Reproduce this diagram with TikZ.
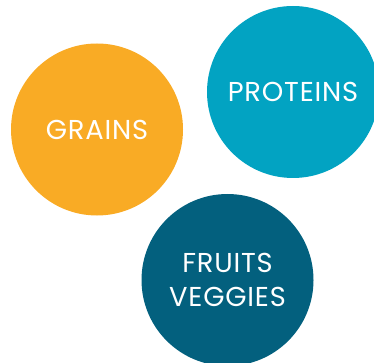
\documentclass[tikz,border=0pt]{standalone}
\usepackage{fontspec}
\setmainfont{Poppins}[LetterSpace=3]
\definecolor{grainorange}{RGB}{249,171,37}
\definecolor{proteinteal}{RGB}{2,163,194}
\definecolor{veggieblue}{RGB}{3,96,126}
\tikzset{every picture/.style={line width=0.75pt}}
\tikzset{foodgroup/.style={circle, minimum size=129pt, inner sep=0pt, text=white, align=center, font=\fontsize{20.5}{26}\selectfont}}

\begin{document}
\begin{tikzpicture}[x=0.75pt,y=0.75pt,yscale=-1,xscale=1]
\useasboundingbox (0,0) rectangle (374,363);
\clip (0,0) rectangle (374,363);
%Shape: Circle [id:grains]
\node [foodgroup, fill=grainorange] (grains) at (97,129.5) {GRAINS};
%Shape: Circle [id:proteins]
\node [foodgroup, fill=proteinteal] (proteins) at (293,92) {PROTEINS};
%Shape: Circle [id:veggies]
\node [foodgroup, fill=veggieblue] (veggies) at (227.5,280) {FRUITS\\VEGGIES};

\end{tikzpicture}
\end{document}
